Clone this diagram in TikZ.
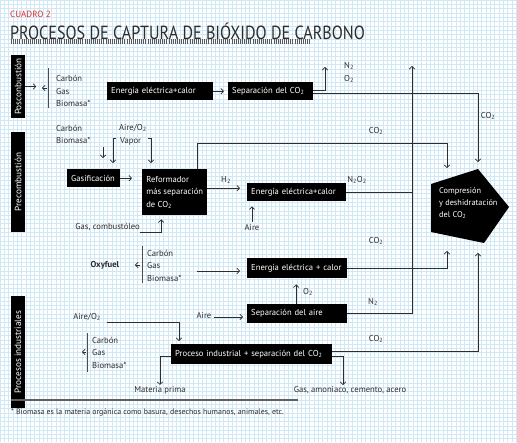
\documentclass[tikz,border=0pt]{standalone}
\usepackage{fontspec}
\setmainfont{PT Sans}
\usetikzlibrary{arrows.meta}
\definecolor{gridblue}{RGB}{208,232,246}
\definecolor{ln}{RGB}{45,45,45}
\definecolor{redt}{RGB}{226,45,45}
\newcommand{\dos}{\textsubscript{2}}
\begin{document}
\begin{tikzpicture}[x=1pt,y=-1pt,
  every node/.style={font=\fontsize{8.6}{12.5}\selectfont, text=ln, inner sep=0pt},
  box/.style={fill=black, text=white, inner xsep=4pt, inner ysep=0pt, align=left, anchor=north west},
  side/.style={fill=black, text=white, inner sep=0pt, minimum height=14pt, rotate=90, font=\fontsize{9.2}{10}\selectfont},
  conn/.style={draw=ln, line width=0.7pt},
  arr/.style={conn, -{Straight Barb[length=2.6pt,width=5.5pt]}},
  brk/.style={draw=gray!60!black, line width=1pt}]
\useasboundingbox (0,0) rectangle (517,442);
\fill[white] (0,0) rectangle (517,442);
\foreach \i in {0,...,121} \draw[gridblue, line width=0.35pt] (\i*4.3,0) -- (\i*4.3,442);
\foreach \j in {0,...,103} \draw[gridblue, line width=0.35pt] (0,\j*4.3) -- (517,\j*4.3);
% title
\node[anchor=west, text=redt, font=\fontsize{9}{10}\selectfont] (cuadro) at (10,14) {CUADRO 2};
\node[anchor=west, font=\fontsize{19}{22}\selectfont] (title) at (10,31) {\scalebox{0.85}[1]{PROCESOS DE CAPTURA DE BIÓXIDO DE CARBONO}};
\draw[gray!70!black, line width=5pt, dash pattern=on 0.8pt off 1.3pt] (11,41) -- (310,41);
% side labels
\node[side, minimum width=63pt] (pos) at (18,86.5) {Posconbustión};
\node[side, minimum width=100pt] (pre) at (18,182) {Precombustión};
\node[side, minimum width=112pt] (proc) at (18,352) {Procesos industriales};
% --- Posconbustion
\draw[arr] (pos.south) -- ++(11,0);
\draw[arr] (47,88) -- (42,88);
\draw[brk] (48,68) -- (48,108);
\node[anchor=west, align=left] (f1) at (56,91) {Carbón\\Gas\\Biomasa*};
\node[box, text width=98pt, minimum height=18pt] (pe1) at (107,82) {Energía eléctrica+calor};
\node[box, text width=77pt, minimum height=18pt] (sep1) at (228,82) {Separación del CO\dos};
\draw[arr, shorten >=4pt] (pe1.east) -- (sep1.west);
\coordinate (n2o2top) at (325,67);
\draw[arr] ([yshift=1pt]sep1.east) -| (n2o2top);
\coordinate (cin1) at (478,162);
\draw[arr] ([yshift=-2pt]sep1.east) -| (cin1);
\node (n2a) at (349,66) {N\dos};
\node (o2a) at (349,79) {O\dos};
\node (co2a) at (488,116) {CO\dos};
% --- Precombustion
\node[anchor=west, align=left] (cb2) at (56,134.5) {Carbón\\Biomasa*};
\node[anchor=west] (aire1) at (119,128) {Aire/O\dos};
\node[anchor=west] (vapor) at (120,141) {Vapor};
\draw[arr] (103,147) -- (103,158);
\draw[arr] (116,138) -- (113,138) -- (113,163);
\draw[arr] (148,138) -- (151,138) -- (151,163);
\node[box, text width=45pt, minimum height=18pt] (gas) at (67,169) {Gasificación};
\node[box, minimum width=65pt, minimum height=46pt, inner xsep=3pt] (ref) at (142,169) {Reformador\\más separación\\de CO\dos};
\node[box, text width=91pt, minimum height=18pt] (pe2) at (247,183) {Energía eléctrica+calor};
\draw[arr, shorten >=10pt] (gas.east) -- (gas.east -| ref.west);
\draw[arr, shorten >=7pt] ([yshift=4pt]ref.east) -- ([yshift=4pt]ref.east -| pe2.west);
\node (h2) at (226,180) {H\dos};
\coordinate (cin2) at (447,168);
\draw[arr] ([xshift=-10pt]ref.north east) -- ++(0,-26) -| (cin2);
\node (co2b) at (376,131) {CO\dos};
\node[anchor=east] (gcomb) at (140,227) {Gas, combustóleo};
\draw[arr] ([yshift=-1pt]gcomb.south east) -| ([xshift=-13.5pt, yshift=-4pt]ref.south);
\node (aire2) at (252,227) {Aire};
\draw[arr, shorten >=5pt, shorten <=2pt] (aire2.north) -- (aire2.north |- pe2.south);
\coordinate (vtop) at (412,66);
\draw[conn] (pe2.east) -- (pe2.east -| vtop);
\node (n2o2b) at (357,180) {N\dos O\dos};
% pentagon
\fill[black] (431,184) -- (478,169) -- (509,207) -- (484,243) -- (431,232) -- cycle;
\node[anchor=west, align=left, text=white, font=\fontsize{8.3}{12.3}\selectfont] (comp) at (439,203) {Compresión\\y deshidratación\\del CO\dos};
% --- Oxyfuel
\node[font=\fontsize{8.6}{12.5}\selectfont\bfseries] (oxy) at (105,265) {Oxyfuel};
\draw[arr] (140,265) -- (135,265);
\draw[brk] (142,246) -- (142,283);
\node[anchor=west, align=left] (f3) at (147,265.5) {Carbón\\Gas\\Biomasa*};
\node[box, text width=92pt, minimum height=20pt] (pe3) at (247,258) {Energía eléctrica + calor};
\coordinate (oxs) at (197,271);
\draw[arr, shorten >=7pt] (oxs) -- (oxs -| pe3.west);
\coordinate (cin3) at (447,251);
\draw[arr] (pe3.east) -| (cin3);
\node (co2c) at (376,241) {CO\dos};
\node[box, text width=92pt, minimum height=19pt] (sa) at (247,304) {Separación del aire};
\draw[arr, shorten >=6pt] ([xshift=-1pt]sa.north) -- ([xshift=-1pt]sa.north |- pe3.south);
\node (o2b) at (308,292) {O\dos};
\node (aire3) at (204,315) {Aire};
\draw[arr, shorten >=4pt] ([xshift=2pt,yshift=-2pt]aire3.east) -- ([yshift=-2pt]aire3.east -| sa.west);
\draw[arr] (sa.east) -| (vtop);
\node (n2c) at (373,302) {N\dos};
% --- Procesos industriales
\node (aire4) at (87,317) {Aire/O\dos};
\coordinate (pin) at (179,341);
\draw[arr] ([xshift=6pt,yshift=-5pt]aire4.east) -| (pin);
\draw[arr] (86,352) -- (82,352);
\draw[brk] (87,333) -- (87,372);
\node[anchor=west, align=left] (f4) at (92,352.5) {Carbón\\Gas\\Biomasa*};
\node[box, text width=153pt, minimum height=20pt] (pi) at (171,344) {Proceso industrial + separación del CO\dos};
\node (mp) at (160,390) {Materia prima};
\draw[arr, shorten >=1pt] ([yshift=-2pt]pi.west) -| (mp.north);
\node (gam) at (350,390) {Gas, amoniaco, cemento, acero};
\coordinate (gin) at (343,385);
\draw[arr] ([yshift=-2pt]pi.east) -| (gin);
\coordinate (cin4) at (478,253);
\draw[arr] ([yshift=3pt]pi.east) -| (cin4);
\node (co2d) at (376,339) {CO\dos};
% footnote
\draw[gray!75!black, line width=1.5pt] (11,400) -- (298,400);
\node[anchor=west, font=\fontsize{7.9}{8}\selectfont] (fn) at (11,412) {* Biomasa es la materia orgánica como basura, desechos humanos, animales, etc.};
\end{tikzpicture}
\end{document}
